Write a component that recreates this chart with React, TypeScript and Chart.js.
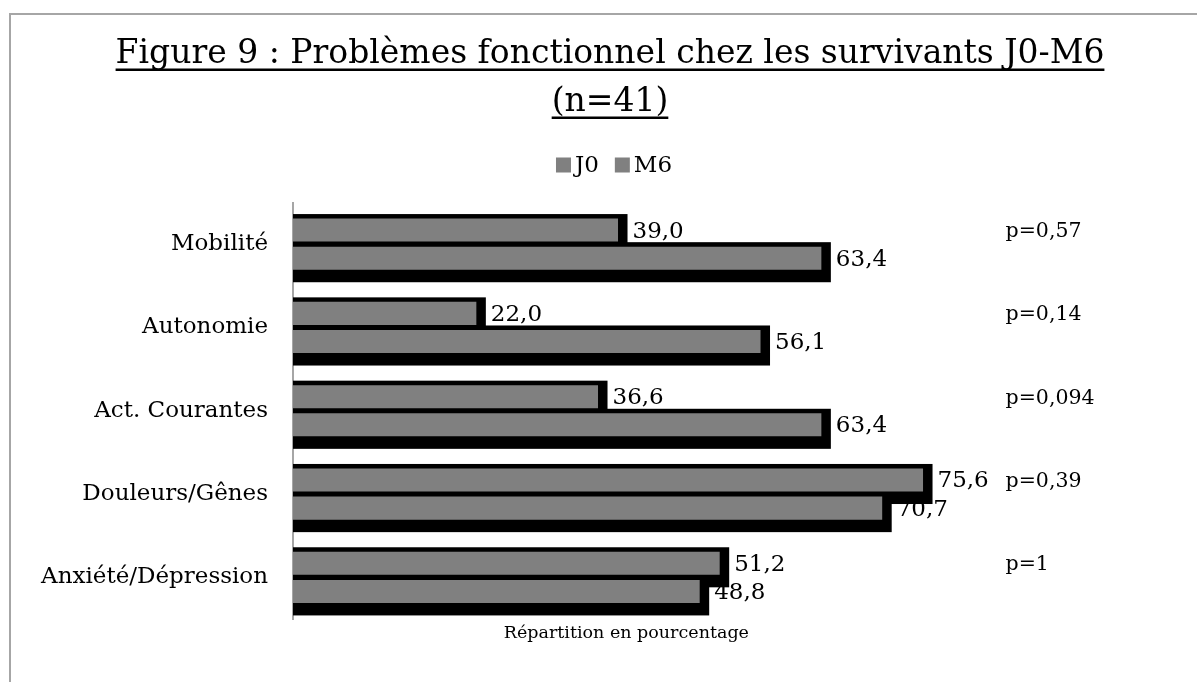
import React, { useEffect, useRef } from "react";
import { Chart, registerables } from "chart.js";

Chart.register(...registerables);

const categories = ["Mobilité", "Autonomie", "Act. Courantes", "Douleurs/Gênes", "Anxiété/Dépression"];
const seriesNames = ["J0", "M6"];
const j0Values = [39.0, 22.0, 36.6, 75.6, 51.2];
const m6Values = [63.4, 56.1, 63.4, 70.7, 48.8];
const pValues = ["p=0,57", "p=0,14", "p=0,094", "p=0,39", "p=1"];
const titleLines = ["Figure 9 : Problèmes fonctionnel chez les survivants J0-M6", "(n=41)"];
const xAxisTitle = "Répartition en pourcentage";

const FONT = "'DejaVu Serif', serif";
const BAR = "#808080";
const SHADOW = "#000000";
const FRAME = "#a6a6a6";

const fmt = (v: number) => v.toFixed(1).replace(".", ",");

const decor = {
  id: "decor",
  beforeDraw(chart: any) {
    const ctx = chart.ctx as CanvasRenderingContext2D;
    ctx.save();
    ctx.fillStyle = "#ffffff";
    ctx.fillRect(0, 0, chart.width, chart.height);
    // frame
    ctx.strokeStyle = FRAME;
    ctx.lineWidth = 2;
    ctx.beginPath();
    ctx.moveTo(10, chart.height + 5);
    ctx.lineTo(10, 14);
    ctx.lineTo(chart.width + 5, 14);
    ctx.stroke();
    // title
    ctx.fillStyle = "#000000";
    ctx.font = `33px ${FONT}`;
    ctx.textAlign = "center";
    ctx.textBaseline = "alphabetic";
    const cx = 610;
    const baselines = [63, 111];
    titleLines.forEach((t, i) => {
      ctx.fillText(t, cx, baselines[i]);
      const w = ctx.measureText(t).width;
      ctx.fillRect(cx - w / 2, baselines[i] + 5.5, w, 2.5);
    });
    // legend
    ctx.font = `23px ${FONT}`;
    ctx.textAlign = "left";
    ctx.textBaseline = "middle";
    const box = 15;
    const items = chart.data.datasets.map((ds: any) => ({
      label: ds.label as string,
      color: ds.backgroundColor as string,
      w: box + 4 + ctx.measureText(ds.label).width,
    }));
    const gap = 16;
    const total = items.reduce((s: number, it: any) => s + it.w, 0) + gap * (items.length - 1);
    let lx = 614 - total / 2;
    const ly = 165;
    items.forEach((it: any) => {
      ctx.fillStyle = it.color;
      ctx.fillRect(lx, ly - box / 2, box, box);
      ctx.fillStyle = "#000000";
      ctx.fillText(it.label, lx + box + 4, ly + 1);
      lx += it.w + gap;
    });
    ctx.restore();
  },
  beforeDatasetsDraw(chart: any) {
    const ctx = chart.ctx as CanvasRenderingContext2D;
    ctx.save();
    ctx.fillStyle = SHADOW;
    chart.data.datasets.forEach((_ds: any, di: number) => {
      const meta = chart.getDatasetMeta(di);
      meta.data.forEach((bar: any) => {
        const { x, y, base, height } = bar.getProps(["x", "y", "base", "height"], true);
        ctx.fillRect(base, y - height / 2 - 4.5, x - base + 9.5, height + 17);
      });
    });
    ctx.restore();
  },
  afterDatasetsDraw(chart: any) {
    const ctx = chart.ctx as CanvasRenderingContext2D;
    ctx.save();
    ctx.fillStyle = "#000000";
    ctx.textAlign = "left";
    ctx.textBaseline = "middle";
    const labelEnds: number[] = [];
    chart.data.datasets.forEach((ds: any, di: number) => {
      const meta = chart.getDatasetMeta(di);
      meta.data.forEach((bar: any, i: number) => {
        const { x, y } = bar.getProps(["x", "y"], true);
        ctx.font = `23px ${FONT}`;
        const txt = fmt(ds.data[i]);
        const tx = x + 9.5 + 5;
        ctx.fillText(txt, tx, y + 1.5);
        if (di === 0) labelEnds[i] = tx + ctx.measureText(txt).width;
      });
    });
    const xs = chart.scales.x;
    const j0Meta = chart.getDatasetMeta(0);
    ctx.font = `20.5px ${FONT}`;
    pValues.forEach((p, i) => {
      const bar: any = j0Meta.data[i];
      const { y } = bar.getProps(["y"], true);
      const px = Math.max(xs.getPixelForValue(85.5), labelEnds[i] + 6);
      ctx.fillText(p, px, y + 1.5);
    });
    ctx.restore();
  },
};

export default function App() {
  const ref = useRef<HTMLCanvasElement | null>(null);
  useEffect(() => {
    if (!ref.current) return;
    const chart = new Chart(ref.current, {
      type: "bar",
      data: {
        labels: categories,
        datasets: [
          { label: seriesNames[0], data: j0Values, backgroundColor: BAR, barPercentage: 0.82, categoryPercentage: 0.675 },
          { label: seriesNames[1], data: m6Values, backgroundColor: BAR, barPercentage: 0.82, categoryPercentage: 0.675 },
        ],
      },
      options: {
        indexAxis: "y",
        animation: false,
        responsive: false,
        layout: { padding: { top: 202.5, right: 237.3, bottom: 34, left: 0 } },
        plugins: {
          legend: { display: false },
          title: { display: false },
          tooltip: { enabled: false },
        },
        scales: {
          x: {
            min: 0,
            max: 80,
            grid: { display: false, drawTicks: false },
            border: { display: false },
            ticks: { display: false },
            title: {
              display: true,
              text: xAxisTitle,
              color: "#000000",
              font: { family: FONT, size: 17.5 },
              padding: { top: 4, bottom: 4 },
            },
          },
          y: {
            grid: { display: false, drawTicks: false },
            border: { display: true, color: FRAME, width: 2 },
            ticks: { color: "#000000", font: { family: FONT, size: 23 }, padding: 25 },
            afterFit: (s: any) => {
              s.width = 293;
            },
          },
        },
      },
      plugins: [decor],
    } as any);
    return () => chart.destroy();
  }, []);
  return (
    <div style={{ position: "fixed", left: 0, top: 0, width: 1197, height: 682 }}>
      <canvas ref={ref} width={1197} height={682} style={{ display: "block" }} />
    </div>
  );
}
